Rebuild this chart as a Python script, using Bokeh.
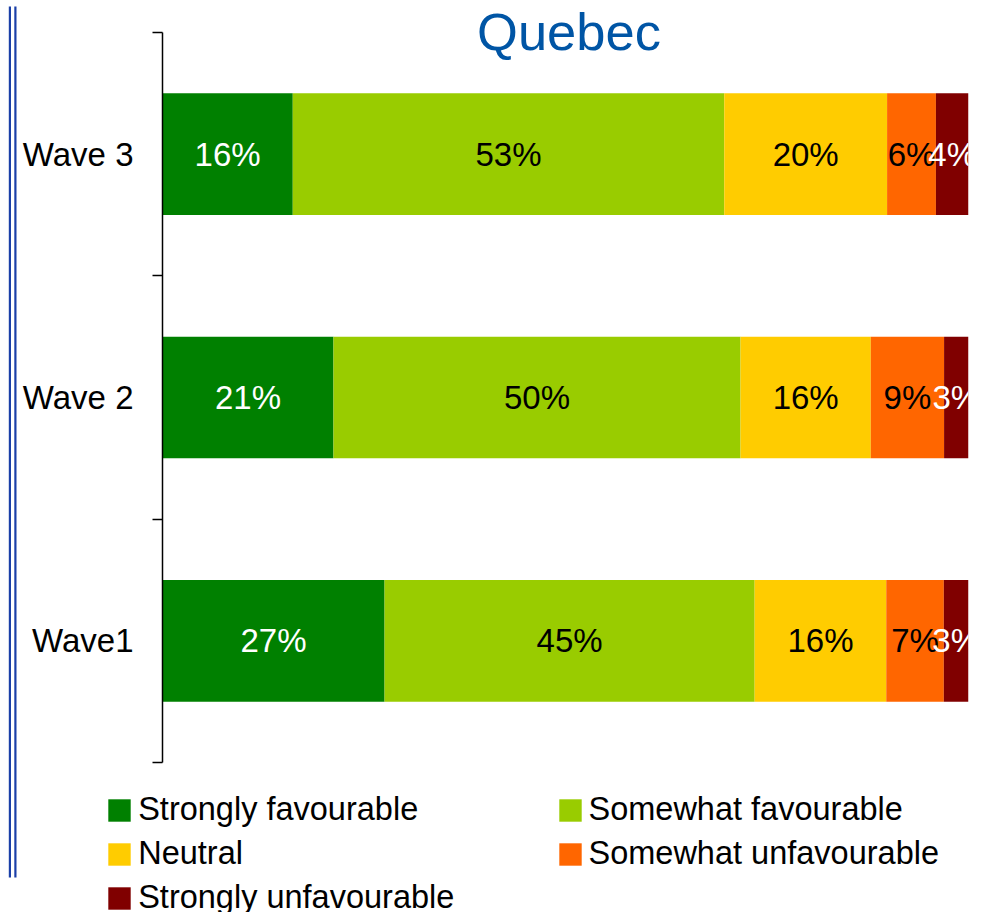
import numpy as np
from bokeh.plotting import figure
from bokeh.models import (Range1d, FixedTicker, ColumnDataSource, Legend, LegendItem,
                          Label, BoxAnnotation)
from bokeh.core.properties import value
from bokeh.embed import file_html
from bokeh.resources import INLINE

# ---- data ----
title_text = "Quebec"
waves = ["Wave1", "Wave 2", "Wave 3"]
series = ["Strongly favourable", "Somewhat favourable", "Neutral",
          "Somewhat unfavourable", "Strongly unfavourable"]
strongly_favourable = [27, 21, 16]
somewhat_favourable = [45, 50, 53]
neutral = [16, 16, 20]
somewhat_unfavourable = [7, 9, 6]
strongly_unfavourable = [3, 3, 4]

colors = ["#008000", "#99CC00", "#FFCC00", "#FF6600", "#800000"]
label_colors = ["white", "black", "black", "black", "white"]
FONT = "Liberation Sans"
BLUE_BORDER = "#1A3FA8"

values = [strongly_favourable, somewhat_favourable, neutral,
          somewhat_unfavourable, strongly_unfavourable]
totals = np.sum(np.array(values, dtype=float), axis=0)
n = len(waves)
ypos = [i + 0.5 for i in range(n)]

# ---- layout geometry (pixels on the canvas) ----
W, H = 976, 912
AX_LEFT, AX_RIGHT = 162, 968       # where 0% and 100% fall
AX_TOP, AX_BOTTOM = 32, 762        # where the category band edges 3 and 0 fall
ppx = (AX_RIGHT - AX_LEFT) / 100.0
ppy = (AX_BOTTOM - AX_TOP) / n
x_start = -AX_LEFT / ppx
y_end = n + AX_TOP / ppy
y_start = -(H - AX_BOTTOM) / ppy

def px_x(px):
    return x_start + px / ppx

def px_y(py):
    return y_end - py / ppy

p = figure(width=W, height=H, output_backend="svg", toolbar_location=None,
           x_range=Range1d(x_start, 100), y_range=Range1d(y_start, y_end),
           x_axis_location=None, y_axis_location="left",
           min_border_left=0, min_border_right=W - AX_RIGHT, min_border_top=0,
           min_border_bottom=0)
p.outline_line_color = None
p.grid.visible = False

ya = p.yaxis[0]
ya.fixed_location = 0
ya.bounds = (0, n)
ya.ticker = FixedTicker(ticks=ypos, minor_ticks=list(range(n + 1)))
ya.major_label_overrides = {y: w for y, w in zip(ypos, waves)}
ya.major_tick_out = 0
ya.major_tick_in = 0
ya.minor_tick_out = 10
ya.minor_tick_in = 0
ya.minor_tick_line_color = "black"
ya.minor_tick_line_width = 1.5
ya.axis_line_color = "black"
ya.axis_line_width = 1.5
ya.major_label_standoff = 19
ya.major_label_text_font = FONT
ya.major_label_text_font_size = "33px"
ya.major_label_text_color = "black"

left = np.zeros(n)
renderers = []
lx, ly, lt, lc = [], [], [], []
for name, vals, col, tcol in zip(series, values, colors, label_colors):
    share = np.array(vals, dtype=float) / totals * 100.0
    right = left + share
    src = ColumnDataSource(dict(y=ypos, left=left.copy(), right=right.copy()))
    r = p.hbar(y="y", left="left", right="right", height=0.5, source=src,
               fill_color=col, line_color=None)
    renderers.append(r)
    for i in range(n):
        lx.append((left[i] + right[i]) / 2)
        ly.append(ypos[i])
        lt.append(f"{vals[i]}%")
        lc.append(tcol)
    left = right

lab_src = ColumnDataSource(dict(x=lx, y=ly, t=lt, c=lc))
p.text(x="x", y="y", text="t", text_color="c", source=lab_src,
       text_font=value(FONT), text_font_size="33px",
       text_align="center", text_baseline="middle")

# title
p.add_layout(Label(x=px_x(568.5), y=px_y(31), text=title_text, text_font=FONT,
                   text_font_size="52.5px", text_color="#0055A5",
                   text_align="center", text_baseline="middle"))

# legends (two columns)
def make_legend(idx, loc):
    items = [LegendItem(label=value(series[i]), renderers=[renderers[i]]) for i in idx]
    return Legend(items=items, location=loc, orientation="vertical",
                  border_line_color=None, background_fill_alpha=0,
                  padding=0, margin=0, spacing=7,
                  glyph_width=28, glyph_height=28, label_standoff=5,
                  label_height=37,
                  label_text_font=FONT, label_text_font_size="32.5px",
                  label_text_color="black")

LEG_TOP = 791
p.add_layout(make_legend([0, 2, 4], (105.2, H - (LEG_TOP + 3 * 37 + 2 * 7))), "center")
p.add_layout(make_legend([1, 3], (555.5, H - (LEG_TOP + 2 * 37 + 7))), "center")

# slide border (double blue line)
for l, r in [(8.3, 10.5), (13.8, 16.0)]:
    p.add_layout(BoxAnnotation(left=px_x(l), right=px_x(r), top=px_y(6), bottom=px_y(877),
                               fill_color=BLUE_BORDER, fill_alpha=1.0, line_color=None))

open("out.html", "w").write(file_html(p, INLINE))
